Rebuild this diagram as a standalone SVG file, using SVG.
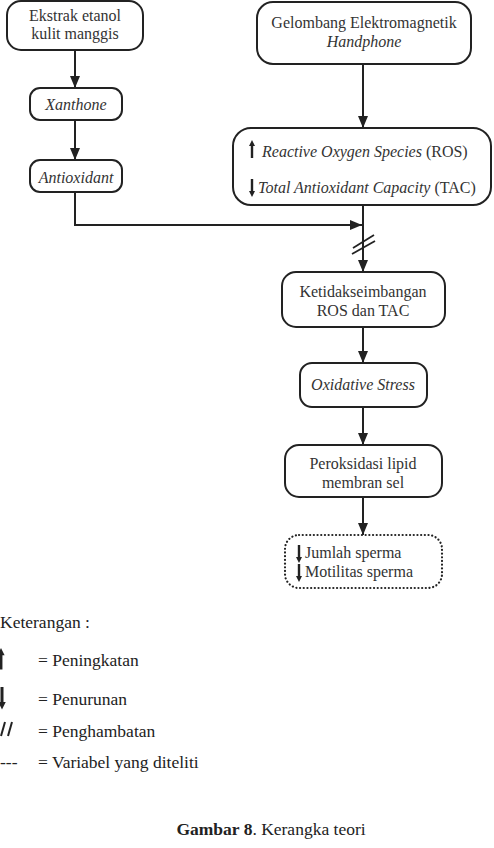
<svg xmlns="http://www.w3.org/2000/svg" width="494" height="848" viewBox="0 0 494 848">
<style>
.box{fill:#fff;stroke:#222;stroke-width:2}
.dot{fill:#fff;stroke:#222;stroke-width:2.2;stroke-dasharray:0.1 3.6;stroke-linecap:round}
text{font-family:'Liberation Serif','DejaVu Serif',serif}
.t{font-size:16px;fill:#333}
.c{text-anchor:middle}
.i{font-style:italic}
.lg{font-size:17.5px;fill:#222}
.ln{fill:none;stroke:#222;stroke-width:2}
.sl{fill:none;stroke:#222;stroke-width:1.8}
.sym{fill:#222;stroke:none}
</style>
<defs>
<marker id="ah" viewBox="0 0 12 10" refX="12" refY="5" markerWidth="12" markerHeight="10" markerUnits="userSpaceOnUse" orient="auto">
<path d="M0,0 L12,5 L0,10 z" fill="#222"/>
</marker>
<path id="up" d="M-1.2,18 L-1.2,6 L-3,6 L0,0 L3,6 L1.2,6 L1.2,18 z"/>
<path id="down" d="M-1.2,0 L-1.2,12 L-3,12 L0,18 L3,12 L1.2,12 L1.2,0 z"/>
</defs>

<g id="connectors">
<line class="ln" x1="75" y1="50" x2="75" y2="88" marker-end="url(#ah)"/>
<line class="ln" x1="75" y1="120" x2="75" y2="160" marker-end="url(#ah)"/>
<polyline class="ln" points="75,192 75,225 362,225" marker-end="url(#ah)"/>
<line class="ln" x1="363" y1="64" x2="363" y2="128" marker-end="url(#ah)"/>
<line class="ln" x1="363" y1="206" x2="363" y2="272" marker-end="url(#ah)"/>
<line class="sl" x1="353" y1="248" x2="374" y2="235"/>
<line class="sl" x1="352" y1="254" x2="375" y2="241"/>
<line class="ln" x1="363" y1="327" x2="363" y2="363" marker-end="url(#ah)"/>
<line class="ln" x1="363" y1="407" x2="363" y2="445" marker-end="url(#ah)"/>
<line class="ln" x1="363" y1="497" x2="363" y2="535" marker-end="url(#ah)"/>
</g>

<g id="n1">
<rect class="box" x="7" y="1" width="136" height="49" rx="14"/>
<text class="t c" x="75" y="21">Ekstrak etanol</text>
<text class="t c" x="75" y="39">kulit manggis</text>
</g>
<g id="n2">
<rect class="box" x="30" y="88" width="92" height="32" rx="10"/>
<text class="t c i" x="76" y="110">Xanthone</text>
</g>
<g id="n3">
<rect class="box" x="30" y="160" width="92" height="32" rx="10"/>
<text class="t c i" x="76" y="183">Antioxidant</text>
</g>
<g id="n4">
<rect class="box" x="257" y="2" width="214" height="62" rx="16"/>
<text class="t c" x="364" y="28">Gelombang Elektromagnetik</text>
<text class="t c i" x="364" y="47">Handphone</text>
</g>
<g id="n5">
<rect class="box" x="233" y="128" width="258" height="77" rx="18"/>
<use href="#up" class="sym" x="252" y="140"/>
<text class="t" x="262" y="157"><tspan class="i">Reactive Oxygen Species</tspan> (ROS)</text>
<use href="#down" class="sym" x="252" y="179"/>
<text class="t" x="258" y="193"><tspan class="i">Total Antioxidant Capacity</tspan> (TAC)</text>
</g>
<g id="n6">
<rect class="box" x="282" y="272" width="163" height="55" rx="14"/>
<text class="t c" x="363" y="297">Ketidakseimbangan</text>
<text class="t c" x="363" y="316">ROS dan TAC</text>
</g>
<g id="n7">
<rect class="box" x="300" y="363" width="127" height="44" rx="12"/>
<text class="t c i" x="363" y="390">Oxidative Stress</text>
</g>
<g id="n8">
<rect class="box" x="285" y="445" width="157" height="52" rx="14"/>
<text class="t c" x="363" y="469">Peroksidasi lipid</text>
<text class="t c" x="363" y="488">membran sel</text>
</g>
<g id="n9">
<rect class="dot" x="285" y="535" width="157" height="53" rx="14"/>
<use href="#down" class="sym" x="299" y="545"/>
<text class="t" x="305" y="558">Jumlah sperma</text>
<use href="#down" class="sym" x="299" y="564"/>
<text class="t" x="305" y="577">Motilitas sperma</text>
</g>

<g id="legend">
<text class="lg" x="0" y="628">Keterangan :</text>
<use href="#up" class="sym" transform="translate(1,648) scale(1.2)"/>
<text class="lg" x="38" y="666">= Peningkatan</text>
<use href="#down" class="sym" transform="translate(2,687) scale(1.25)"/>
<text class="lg" x="38" y="705">= Penurunan</text>
<line x1="1" y1="736" x2="5" y2="722" stroke="#222" stroke-width="2"/>
<line x1="8" y1="736" x2="12" y2="722" stroke="#222" stroke-width="2"/>
<text class="lg" x="38" y="737">= Penghambatan</text>
<text class="lg" x="0" y="768">---</text>
<text class="lg" x="38" y="768">= Variabel yang diteliti</text>
</g>

<g id="caption">
<text class="lg" x="271" y="835" text-anchor="middle"><tspan font-weight="bold">Gambar 8</tspan>. Kerangka teori</text>
</g>
</svg>
